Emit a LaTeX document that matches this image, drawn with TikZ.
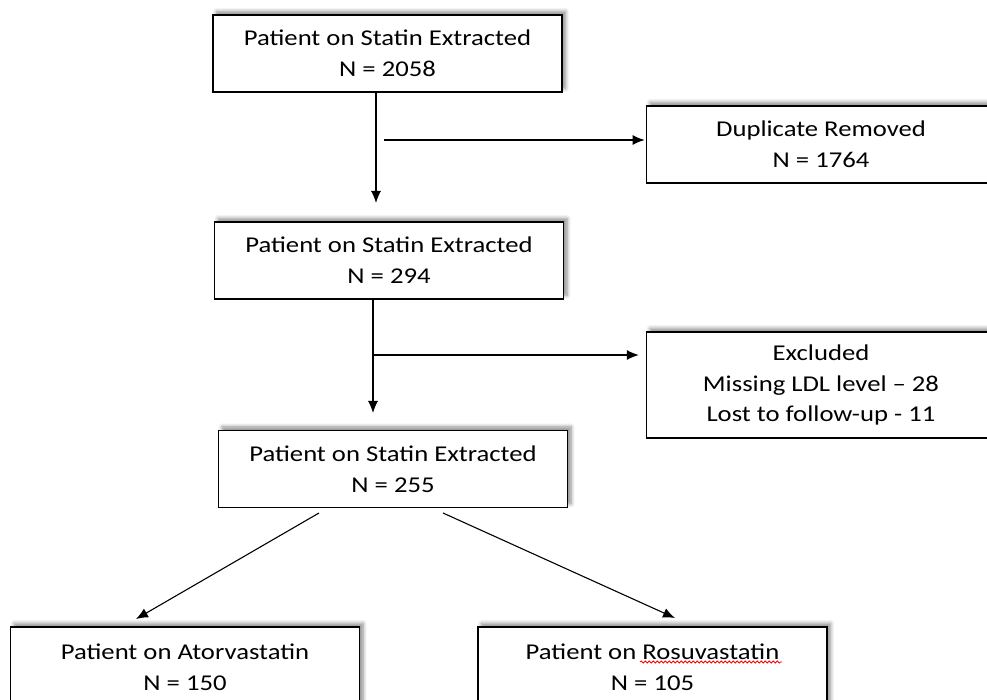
\documentclass[tikz,border=0pt]{standalone}
\usepackage{fontspec}
\setmainfont{Carlito}[FakeStretch=1.18]
\usetikzlibrary{arrows.meta,shadows.blur,decorations.pathmorphing}

\tikzset{
	flowbox/.style={draw, line width=0.7pt, fill=white, align=center, inner sep=0pt,
		minimum width=174.5pt, minimum height=38.5pt,
		font=\fontsize{11.3}{15.5}\selectfont,
		blur shadow={shadow xshift=1.8pt, shadow yshift=1.8pt, shadow blur steps=6, shadow opacity=45}},
	flowarrow/.style={line width=0.55pt,-{Latex[length=6pt,width=5pt]}}
}

\begin{document}
\begin{tikzpicture}[x=0.5pt,y=-0.5pt]
	\useasboundingbox (0,0) rectangle (987,700);
	% boxes
	\node[flowbox] (Statin1) at (387.5,53.5) {Patient on Statin Extracted\\N = 2058};
	\node[flowbox] (Duplicate) at (821,144.5) {Duplicate Removed\\N = 1764};
	\node[flowbox] (Statin2) at (389,260.5) {Patient on Statin Extracted\\N = 294};
	\node[flowbox, minimum height=53pt, font=\fontsize{11.3}{15.2}\selectfont] (Excluded) at (821,385) {Excluded\\Missing LDL level -- 28\\Lost to follow-up - 11};
	\node[flowbox] (Statin3) at (393,469) {Patient on Statin Extracted\\N = 255};
	\node[flowbox, minimum height=40pt] (Atorva) at (185,667) {Patient on Atorvastatin\\N = 150};
	\node[flowbox, minimum height=40pt] (Rosuva) at (652.5,667) {Patient on Rosuvastatin\\N = 105};
	
	% branch points
	\coordinate (Down1)      at (376,203);
	\coordinate (Down2)      at (373,413);
	\coordinate (DupStart)   at (384,140);
	\coordinate (ExclStart)  at (373,355);
	\coordinate (AtorStart)  at (319,513);
	\coordinate (AtorTip)    at (136,619);
	\coordinate (RosuStart)  at (443,513);
	\coordinate (RosuTip)    at (675,618);
	
	% connectors
	\draw[flowarrow] (Statin1.south -| Down1) -- (Down1);
	\draw[flowarrow, shorten >=0.6pt] (DupStart) -- (DupStart -| Duplicate.west);
	\draw[flowarrow] (Statin2.south -| Down2) -- (Down2);
	\draw[flowarrow, shorten >=3.5pt] (ExclStart) -- (ExclStart -| Excluded.west);
	\draw[flowarrow] (AtorStart) -- (AtorTip);
	\draw[flowarrow] (RosuStart) -- (RosuTip);
	
	% spelling mark
	\draw[red, line width=0.4pt, decorate, decoration={snake, amplitude=0.5pt, segment length=2pt}] (640,662) -- (782,662);
\end{tikzpicture}
\end{document}
